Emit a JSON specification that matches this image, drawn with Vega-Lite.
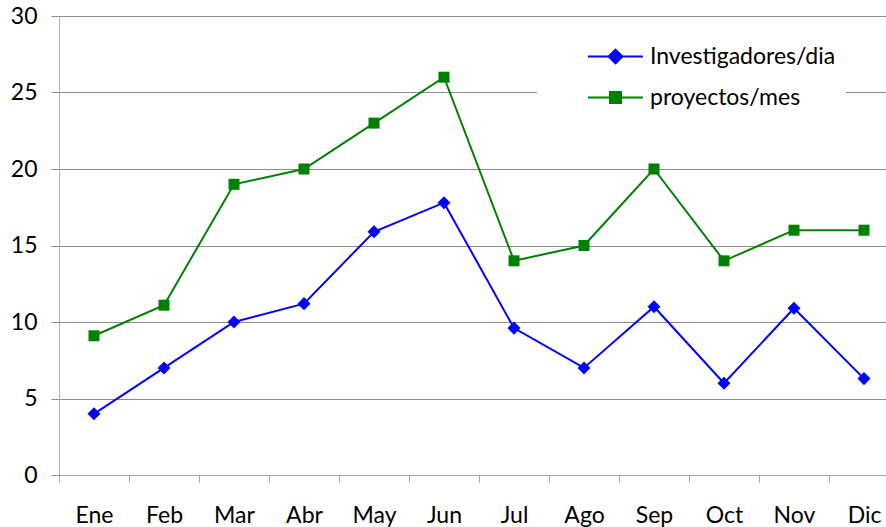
{
  "$schema": "https://vega.github.io/schema/vega-lite/v6.json",
  "width": 840,
  "height": 459,
  "autosize": {"type": "none"},
  "padding": {"left": 59, "top": 16, "right": 0, "bottom": 52},
  "background": "white",
  "config": {
    "view": {"stroke": null},
    "font": "Lato",
    "axis": {"labelFont": "Lato", "labelFontSize": 23, "labelColor": "black"},
    "legend": {"labelFont": "Lato", "labelFontSize": 23, "labelColor": "black"}
  },
  "data": {
    "values": [
      {"mes": "Ene", "serie": "Investigadores/dia", "valor": 4},
      {"mes": "Feb", "serie": "Investigadores/dia", "valor": 7},
      {"mes": "Mar", "serie": "Investigadores/dia", "valor": 10},
      {"mes": "Abr", "serie": "Investigadores/dia", "valor": 11.2},
      {"mes": "May", "serie": "Investigadores/dia", "valor": 15.9},
      {"mes": "Jun", "serie": "Investigadores/dia", "valor": 17.8},
      {"mes": "Jul", "serie": "Investigadores/dia", "valor": 9.6},
      {"mes": "Ago", "serie": "Investigadores/dia", "valor": 7},
      {"mes": "Sep", "serie": "Investigadores/dia", "valor": 11},
      {"mes": "Oct", "serie": "Investigadores/dia", "valor": 6},
      {"mes": "Nov", "serie": "Investigadores/dia", "valor": 10.9},
      {"mes": "Dic", "serie": "Investigadores/dia", "valor": 6.3},
      {"mes": "Ene", "serie": "proyectos/mes", "valor": 9.1},
      {"mes": "Feb", "serie": "proyectos/mes", "valor": 11.1},
      {"mes": "Mar", "serie": "proyectos/mes", "valor": 19},
      {"mes": "Abr", "serie": "proyectos/mes", "valor": 20},
      {"mes": "May", "serie": "proyectos/mes", "valor": 23},
      {"mes": "Jun", "serie": "proyectos/mes", "valor": 26},
      {"mes": "Jul", "serie": "proyectos/mes", "valor": 14},
      {"mes": "Ago", "serie": "proyectos/mes", "valor": 15},
      {"mes": "Sep", "serie": "proyectos/mes", "valor": 20},
      {"mes": "Oct", "serie": "proyectos/mes", "valor": 14},
      {"mes": "Nov", "serie": "proyectos/mes", "valor": 16},
      {"mes": "Dic", "serie": "proyectos/mes", "valor": 16}
    ]
  },
  "encoding": {
    "x": {
      "field": "mes",
      "type": "nominal",
      "sort": ["Ene", "Feb", "Mar", "Abr", "May", "Jun", "Jul", "Ago", "Sep", "Oct", "Nov", "Dic"],
      "scale": {"type": "band", "paddingInner": 0, "paddingOuter": 0},
      "axis": {
        "title": null,
        "labelAngle": 0,
        "tickBand": "extent",
        "domainColor": "#a6a6a6",
        "tickColor": "#a6a6a6",
        "tickSize": 7,
        "labelPadding": 22,
        "grid": false
      }
    },
    "y": {
      "field": "valor",
      "type": "quantitative",
      "scale": {"domain": [0, 30], "nice": false},
      "axis": {
        "title": null,
        "values": [0, 5, 10, 15, 20, 25, 30],
        "grid": true,
        "gridColor": "#8c8c8c",
        "gridWidth": 1,
        "gridOpacity": 1,
        "domainColor": "#b3b3b3",
        "tickColor": "#8c8c8c",
        "tickSize": 8,
        "labelPadding": 14
      }
    },
    "color": {
      "field": "serie",
      "type": "nominal",
      "scale": {"domain": ["Investigadores/dia", "proyectos/mes"], "range": ["#0000ff", "#008000"]},
      "legend": {
        "title": null,
        "orient": "none",
        "legendX": 478,
        "legendY": 2,
        "fillColor": "white",
        "padding": 10,
        "symbolOffset": 40,
        "symbolSize": 3025,
        "symbolStrokeWidth": 2,
        "labelOffset": 6,
        "labelLimit": 400,
        "rowPadding": 0,
        "encode": {
          "symbols": {
            "update": {
              "shape": {"signal": "datum.value == 'Investigadores/dia' ? 'M-1,0H1M0,-0.25L0.25,0L0,0.25L-0.25,0Z' : 'M-1,0H1M-0.2,-0.2H0.2V0.2H-0.2Z'"},
              "fill": {"signal": "datum.value == 'Investigadores/dia' ? '#0000ff' : '#008000'"},
              "stroke": {"signal": "datum.value == 'Investigadores/dia' ? '#0000ff' : '#008000'"},
              "strokeWidth": {"value": 2},
              "opacity": {"value": 1}
            }
          }
        }
      }
    }
  },
  "layer": [
    {
      "mark": {"type": "line", "strokeWidth": 2}
    },
    {
      "transform": [{"filter": "datum.serie == 'Investigadores/dia'"}],
      "mark": {"type": "point", "filled": true, "opacity": 1, "shape": "diamond", "size": 170}
    },
    {
      "transform": [{"filter": "datum.serie == 'proyectos/mes'"}],
      "mark": {"type": "point", "filled": true, "opacity": 1, "shape": "square", "size": 121}
    }
  ]
}
